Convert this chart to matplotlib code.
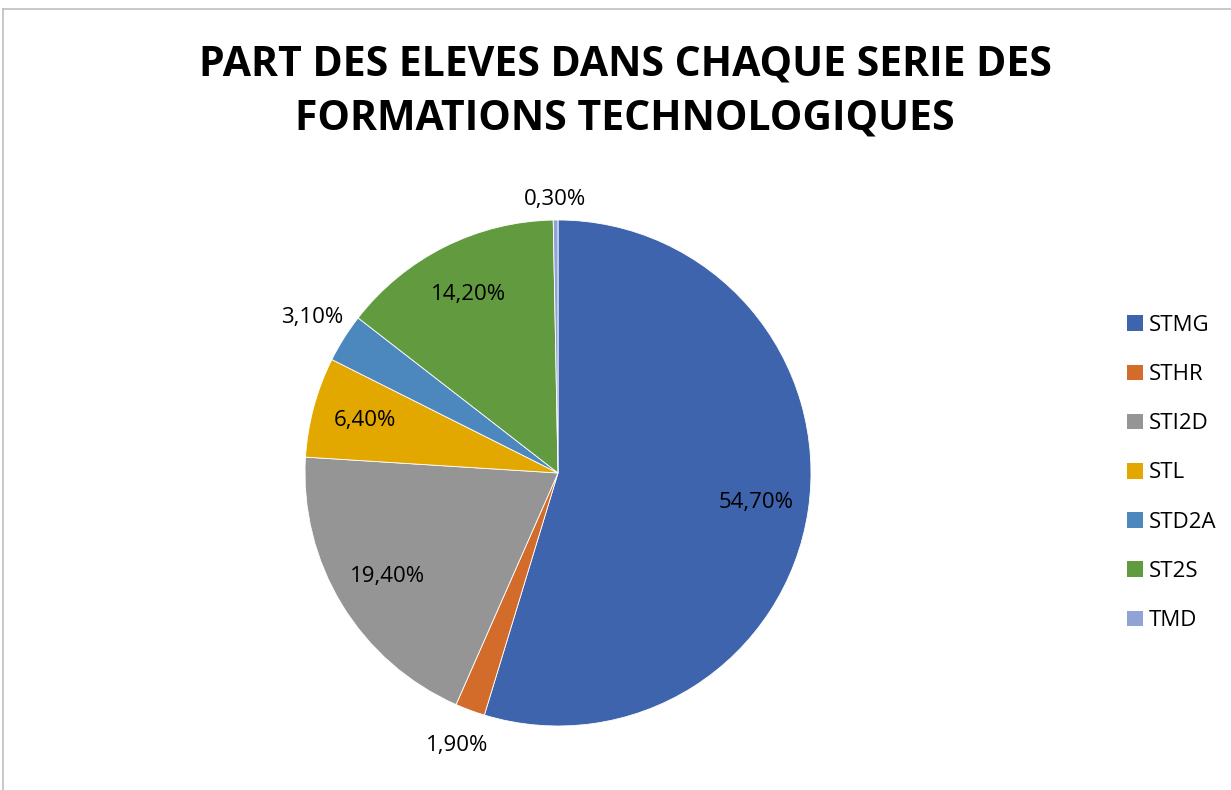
"""Pie chart: part des eleves par serie technologique."""

import matplotlib
matplotlib.use("Agg")
import matplotlib.pyplot as plt
from matplotlib.lines import Line2D
from matplotlib.patches import Patch
import numpy as np

plt.rcParams["font.family"] = ["Open Sans", "DejaVu Sans"]

series = ["STMG", "STHR", "STI2D", "STL", "STD2A", "ST2S", "TMD"]
shares = [54.7, 1.9, 19.4, 6.4, 3.1, 14.2, 0.3]
colors = ["#3E64AD", "#D36B2A", "#959595", "#E3A800", "#4C88BE", "#629A3F", "#8FA4D4"]
title = "PART DES ELEVES DANS CHAQUE SERIE DES\nFORMATIONS TECHNOLOGIQUES"

W, H = 1231, 790
fig = plt.figure(figsize=(W / 100, H / 100), dpi=100)

# pie axes placed in pixels: centre (558, 473), radius 253
cx, cy, r = 558, 473, 253
ax = fig.add_axes([(cx - r) / W, (H - cy - r) / H, 2 * r / W, 2 * r / H])
wedges, _ = ax.pie(shares, colors=colors, startangle=90, counterclock=False,
                   wedgeprops=dict(edgecolor="white", linewidth=0.6))
ax.set_xlim(-1, 1)
ax.set_ylim(-1, 1)
ax.set_aspect("equal")
ax.axis("off")

# labels: inside for big slices, outside for small ones
for w, v in zip(wedges, shares):
    ang = np.deg2rad((w.theta1 + w.theta2) / 2)
    dist = 0.79 if v > 5 else (1.08 if v < 1 else 1.15)
    txt = f"{v:.2f}%".replace(".", ",")
    ax.text(dist * np.cos(ang), dist * np.sin(ang), txt, ha="center", va="center",
            fontsize=16, color="black", clip_on=False)

fig.text(625 / W, 1 - 92 / H, title, ha="center", va="center", fontsize=29.5,
         fontweight="bold", linespacing=1.45, color="black")

handles = [Patch(facecolor=c, edgecolor="none") for c in colors]
leg = fig.legend(handles, series, loc="center left", bbox_to_anchor=(1107 / W, 1 - 473 / H),
                 frameon=False, fontsize=16, handlelength=0.7, handleheight=0.7,
                 handletextpad=0.3, labelspacing=1.27)

# chart border (partly cropped in the reference)
fig.add_artist(Line2D([3 / W, 1], [1 - 9 / H, 1 - 9 / H], color="#BFBFBF", lw=1.2))
fig.add_artist(Line2D([3 / W, 3 / W], [0, 1 - 9 / H], color="#BFBFBF", lw=1.2))

plt.savefig("out.png", dpi=100)
plt.close()
